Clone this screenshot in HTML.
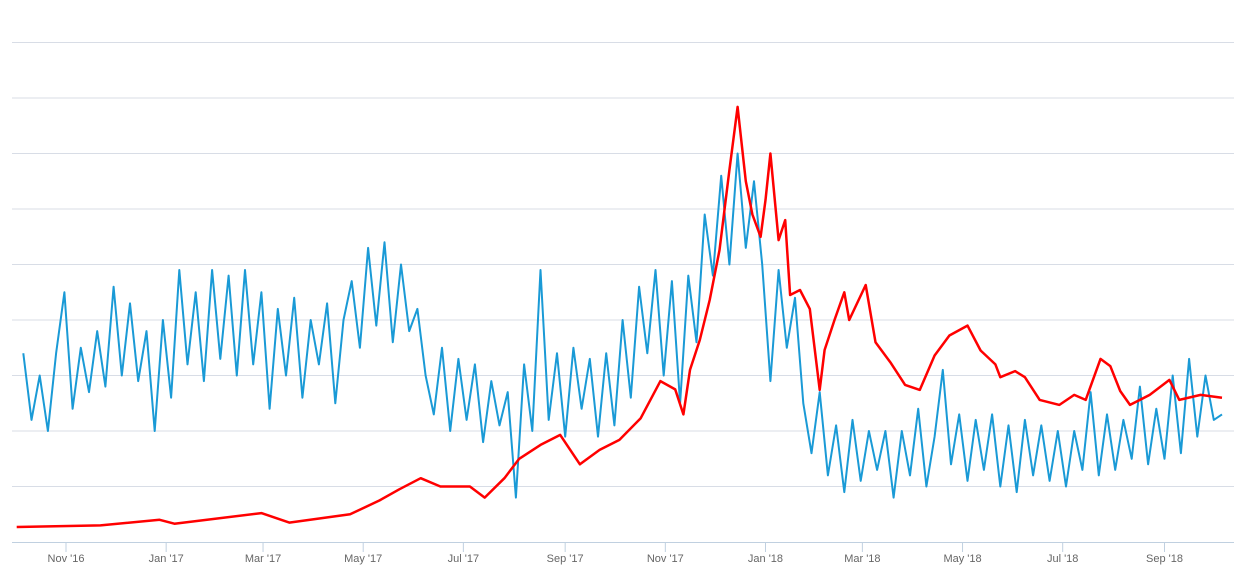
<!DOCTYPE html>
<html><head><meta charset="utf-8"><style>
html,body{margin:0;padding:0;background:#fff;}
svg{display:block;font-family:"Liberation Sans",sans-serif;}
</style></head><body>
<svg id="chart" width="1246" height="572" viewBox="0 0 1246 572">
<g id="grid"></g>
<g id="xaxis"></g>
<g id="series"></g>
</svg>
<script>
const xTickLabels = ["Nov '16","Jan '17","Mar '17","May '17","Jul '17","Sep '17","Nov '17","Jan '18","Mar '18","May '18","Jul '18","Sep '18"];
const xTickDays = [0,61,120,181,242,304,365,426,485,546,607,669];
const gridValues = [1,2,3,4,5,6,7,8,9];
const redDays = [-30,21,57,66,119,136,173,191,203,216,228,246,255,267,276,289,301,313,325,337,350,362,371,376,380,386,392,398,404,409,414,418,423,426,429,434,438,441,447,453,459,462,468,474,477,487,493,502,511,520,529,538,549,557,566,569,578,584,593,605,614,621,630,636,642,648,660,672,678,691,704];
const redValues = [0.27,0.3,0.4,0.33,0.52,0.35,0.5,0.75,0.95,1.15,1.0,1.0,0.8,1.15,1.5,1.75,1.93,1.4,1.66,1.84,2.23,2.9,2.75,2.3,3.1,3.64,4.36,5.26,6.7,7.84,6.5,5.9,5.5,6.16,7.0,5.44,5.8,4.45,4.54,4.2,2.74,3.46,4.0,4.5,4.0,4.63,3.6,3.24,2.83,2.74,3.36,3.72,3.9,3.45,3.2,2.97,3.08,2.97,2.56,2.47,2.65,2.56,3.3,3.17,2.72,2.47,2.65,2.92,2.56,2.65,2.6];
const blueStartDay = -26;
const blueStepDays = 5;
const blueValues = [3.4,2.2,3.0,2.0,3.4,
4.5,2.4,3.5,2.7,3.8,2.8,4.6,3.0,4.3,2.9,3.8,2.0,
4.0,2.6,4.9,3.2,4.5,2.9,4.9,3.3,4.8,3.0,4.9,3.2,
4.5,2.4,4.2,3.0,4.4,2.6,4.0,3.2,4.3,2.5,4.0,
4.7,3.5,5.3,3.9,5.4,3.6,5.0,3.8,4.2,
3.0,2.3,3.5,2.0,3.3,2.2,3.2,1.8,2.9,2.1,2.7,0.8,
3.2,2.0,4.9,2.2,3.4,1.9,3.5,2.4,3.3,1.9,3.4,2.1,4.0,2.6,4.6,
3.4,4.9,3.0,4.7,2.5,4.8,3.6,
5.9,4.8,6.6,5.0,7.0,5.3,6.5,
5.0,2.9,4.9,3.5,4.4,
2.5,1.6,2.7,1.2,2.1,0.9,2.2,1.1,2.0,1.3,2.0,0.8,
2.0,1.2,2.4,1.0,1.9,3.1,1.4,2.3,1.1,2.2,1.3,2.3,1.0,2.1,0.9,2.2,1.2,2.1,1.1,2.0,1.0,2.0,1.3,2.7,1.2,2.3,1.3,2.2,1.5,2.8,1.4,2.4,1.5,3.0,1.6,3.3,1.9,3.0,2.2,2.3];

const NS='http://www.w3.org/2000/svg';
function xScale(d){return 66 + d*1.642;}
function yScale(v){return 542 - v*55.5;}
function mk(tag,attrs,parent){const e=document.createElementNS(NS,tag);for(const k in attrs)e.setAttribute(k,attrs[k]);parent.appendChild(e);return e;}

const grid=document.getElementById('grid');
gridValues.forEach(v=>{
  const l=mk('line',{x1:12,x2:1234,y1:yScale(v),y2:yScale(v),stroke:'#d8dde6','stroke-width':1},grid);
  
  
});
const xa=document.getElementById('xaxis');
const axl=mk('line',{x1:12,x2:1234,y1:542.5,y2:542.5,stroke:'#c0d0e0','stroke-width':1},xa);


xTickLabels.forEach((t,i)=>{
  const x=xScale(xTickDays[i]);
  const tk=mk('line',{x1:x,x2:x,y1:542,y2:552,stroke:'#c0d0e0','stroke-width':1},xa);
  
  
  const tx=mk('text',{x:x,y:562,'text-anchor':'middle','font-size':11,fill:'#666'},xa);
  tx.textContent=t;
  
  
});
const s=document.getElementById('series');
const bp=blueValues.map((v,i)=>xScale(blueStartDay+i*blueStepDays).toFixed(1)+','+yScale(v).toFixed(1)).join(' ');
const blue=mk('polyline',{points:bp,fill:'none',stroke:'#1a9ad6','stroke-width':2,'stroke-linejoin':'round'},s);


const rp=redDays.map((d,i)=>xScale(d).toFixed(1)+','+yScale(redValues[i]).toFixed(1)).join(' ');
const red=mk('polyline',{points:rp,fill:'none',stroke:'#ff0000','stroke-width':2.5,'stroke-linejoin':'round'},s);


</script>
</body></html>
